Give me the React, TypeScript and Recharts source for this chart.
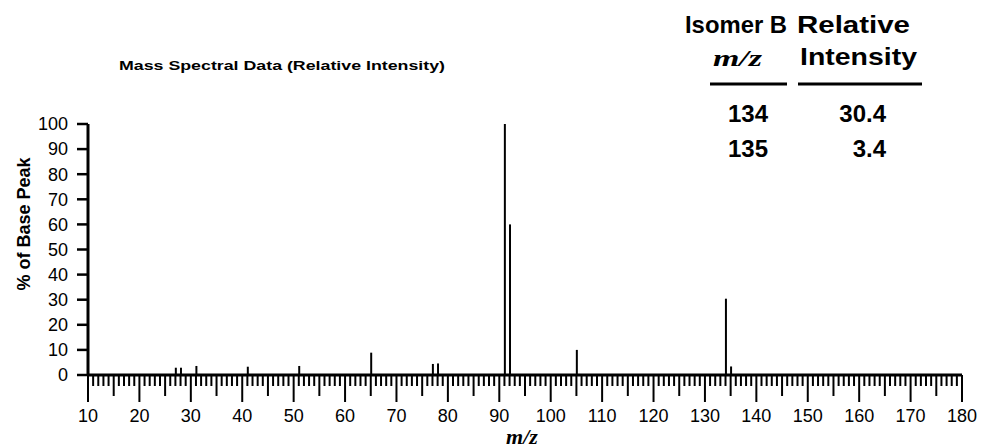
import React from 'react';
import { BarChart, Bar, XAxis, YAxis } from 'recharts';

// peaks (m/z, % of base peak)
const massToCharge = [27, 28, 31, 41, 51, 65, 77, 78, 91, 92, 105, 134, 135];
const relIntensity = [2.9, 2.9, 3.6, 3.3, 3.6, 8.9, 4.4, 4.6, 100, 60, 10, 30.4, 3.4];

const yTicks = [0, 10, 20, 30, 40, 50, 60, 70, 80, 90, 100];
// one tick per unit of m/z, labelled every 10
const xTicks = Array.from({ length: 171 }, (_, i) => 10 + i);

// side table
const tableMz = ['134', '135'];
const tableIntensity = ['30.4', '3.4'];

const data = massToCharge.map((mz, i) => ({ mz, intensity: relIntensity[i] }));

const SANS = '"Liberation Sans", Arial, sans-serif';
const SERIF = '"Liberation Serif", "Times New Roman", serif';

function MzTick({ x, y, payload }: any) {
  const v = payload.value;
  const len = v % 10 === 0 ? 27 : v % 5 === 0 ? 21 : 11;
  return (
    <g>
      <line x1={x} x2={x} y1={y} y2={y + len} stroke="#000" strokeWidth={2} />
      {v % 10 === 0 && (
        <text x={x} y={y + 47} textAnchor="middle" fontSize={18} fontFamily={SANS} fill="#000">
          {v}
        </text>
      )}
    </g>
  );
}

export default function App() {
  return (
    <div style={{ position: 'absolute', left: 0, top: 0, background: '#fff' }}>
      <BarChart
        width={981}
        height={448}
        data={data}
        margin={{ top: 124, right: 19, bottom: 13, left: 0 }}
      >
        <XAxis
          dataKey="mz"
          type="number"
          domain={[10, 180]}
          ticks={xTicks}
          interval={0}
          tick={<MzTick />}
          tickLine={false}
          tickSize={0}
          tickMargin={0}
          height={60}
          axisLine={{ stroke: '#000', strokeWidth: 3 }}
          allowDataOverflow
        />
        <YAxis
          type="number"
          domain={[0, 100]}
          ticks={yTicks}
          interval={0}
          width={88}
          tickSize={11}
          tickMargin={9}
          tickLine={{ stroke: '#000', strokeWidth: 2.5 }}
          axisLine={{ stroke: '#000', strokeWidth: 3 }}
          tick={{ fill: '#000', fontSize: 18, fontFamily: SANS }}
        />
        <Bar dataKey="intensity" fill="#000" barSize={2} isAnimationActive={false} />

        <text x={119} y={70} fontSize={13} fontWeight="bold" fontFamily={SANS} textLength={326} lengthAdjust="spacingAndGlyphs">
          Mass Spectral Data (Relative Intensity)
        </text>
        <text
          x={24}
          y={224}
          transform="rotate(-90, 24, 224)"
          textAnchor="middle"
          dominantBaseline="central"
          fontSize={18}
          fontWeight="bold"
          fontFamily={SANS}
        >
          % of Base Peak
        </text>
        <text x={522} y={444} textAnchor="middle" fontSize={22} fontStyle="italic" fontWeight="bold" fontFamily={SERIF}>
          m/z
        </text>

        <text x={685} y={33} fontSize={24} fontWeight="bold" fontFamily={SANS} textLength={102} lengthAdjust="spacingAndGlyphs">
          Isomer B
        </text>
        <text x={797} y={33} fontSize={24} fontWeight="bold" fontFamily={SANS} textLength={113} lengthAdjust="spacingAndGlyphs">
          Relative
        </text>
        <text x={713} y={66} fontSize={24} fontStyle="italic" fontWeight="bold" fontFamily={SERIF} textLength={49} lengthAdjust="spacingAndGlyphs">
          m/z
        </text>
        <text x={800} y={65} fontSize={24} fontWeight="bold" fontFamily={SANS} textLength={117} lengthAdjust="spacingAndGlyphs">
          Intensity
        </text>
        <line x1={710} x2={787} y1={84} y2={84} stroke="#000" strokeWidth={3} />
        <line x1={798} x2={922} y1={84} y2={84} stroke="#000" strokeWidth={3} />
        {tableMz.map((m, i) => (
          <g key={m}>
            <text x={728} y={122 + i * 35} fontSize={24} fontWeight="bold" fontFamily={SANS}>
              {m}
            </text>
            <text x={886} y={122 + i * 35} textAnchor="end" fontSize={24} fontWeight="bold" fontFamily={SANS}>
              {tableIntensity[i]}
            </text>
          </g>
        ))}
      </BarChart>
    </div>
  );
}
